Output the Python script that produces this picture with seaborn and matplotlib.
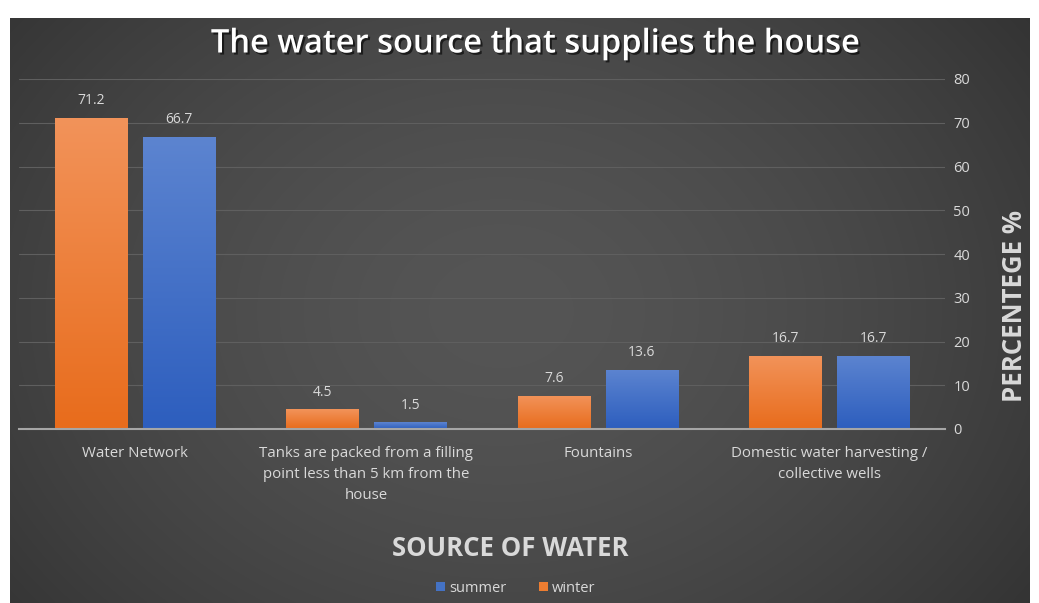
import numpy as np
import pandas as pd
import matplotlib
matplotlib.use("Agg")
import matplotlib.pyplot as plt
import matplotlib.patheffects as pe
from matplotlib.patches import Patch
import seaborn as sns

categories = [
    "Water Network",
    "Tanks are packed from a filling\npoint less than 5 km from the\nhouse",
    "Fountains",
    "Domestic water harvesting /\ncollective wells",
]
winter = [71.2, 4.5, 7.6, 16.7]
summer = [66.7, 1.5, 13.6, 16.7]
seasons = ["winter", "summer"]
y_ticks = [0, 10, 20, 30, 40, 50, 60, 70, 80]

df = pd.DataFrame({
    "source": categories * 2,
    "season": ["winter"] * len(categories) + ["summer"] * len(categories),
    "value": winter + summer,
})

ORANGE = "#ED7D31"
BLUE = "#4472C4"
TEXT = "#d9d9d9"

sns.set_theme(style="dark")
plt.rcParams["font.family"] = ["Open Sans", "DejaVu Sans"]

W, H = 1039, 603
fig = plt.figure(figsize=(W / 100, H / 100), dpi=100)
fig.patch.set_facecolor("white")

# dark panel with a soft radial gradient
bg = fig.add_axes([10 / W, 0, 1020 / W, 585 / H])
bg.set_axis_off()
yy, xx = np.mgrid[0:300, 0:520]
cx, cy = 250, 150
r = np.sqrt(((xx - cx) / 420.0) ** 2 + ((yy - cy) / 330.0) ** 2)
r = np.clip(r, 0, 1)
inner = np.array([0x55, 0x55, 0x55]) / 255
outer = np.array([0x24, 0x24, 0x24]) / 255
img = inner[None, None, :] * (1 - r[..., None] ** 1.6) + outer[None, None, :] * (r[..., None] ** 1.6)
bg.imshow(img, aspect="auto", extent=[0, 1, 0, 1], interpolation="bilinear")
bg.set_xlim(0, 1)
bg.set_ylim(0, 1)

ax = fig.add_axes([19 / W, (H - 429) / H, 926 / W, 350 / H])
ax.patch.set_alpha(0)

sns.barplot(data=df, x="source", y="value", hue="season", hue_order=seasons,
            palette={"winter": ORANGE, "summer": BLUE}, width=0.76, gap=0.18,
            legend=False, ax=ax, zorder=3, linewidth=0)

# vertical gradient inside each bar
grads = {
    "winter": (np.array([0xF2, 0x93, 0x5A]) / 255, np.array([0xE8, 0x6C, 0x1C]) / 255),
    "summer": (np.array([0x5C, 0x84, 0xD0]) / 255, np.array([0x2D, 0x5E, 0xBE]) / 255),
}
for i, bar in enumerate(ax.patches):
    season = seasons[i // len(categories)]
    top_c, bot_c = grads[season]
    x0, w, h = bar.get_x(), bar.get_width(), bar.get_height()
    t = np.linspace(0, 1, 100)[:, None]
    g = (top_c[None, :] * (1 - t) + bot_c[None, :] * t)[:, None, :]
    im = ax.imshow(g, aspect="auto", extent=[x0, x0 + w, 0, h], zorder=3.5,
                   interpolation="bilinear")
    im.set_clip_path(bar)
    bar.set_edgecolor("#2a2a2a")
    bar.set_linewidth(0.6)

for bar in ax.patches:
    h = bar.get_height()
    ax.annotate(f"{h:.1f}", (bar.get_x() + bar.get_width() / 2, h),
                xytext=(0, 7), textcoords="offset points", ha="center", va="bottom",
                color=TEXT, fontsize=10, zorder=5)

ax.set_xlim(-0.5, len(categories) - 0.5)
ax.set_ylim(0, 80)
ax.set_yticks(y_ticks)
ax.yaxis.tick_right()
ax.tick_params(axis="y", length=0, pad=6, colors=TEXT, labelsize=10.5)
ax.tick_params(axis="x", length=0, pad=12, colors=TEXT, labelsize=10.8)
for lbl in ax.get_xticklabels():
    lbl.set_linespacing(1.55)
ax.grid(axis="y", color="#5f5f5f", linewidth=0.8, zorder=0)
ax.grid(axis="x", visible=False)
for s in ["top", "left", "right"]:
    ax.spines[s].set_visible(False)
ax.spines["bottom"].set_color("#a6a6a6")
ax.spines["bottom"].set_linewidth(1.5)
ax.spines["bottom"].set_zorder(6)
ax.set_xlabel("")
ax.set_ylabel("")

fig.text(1015 / W, 1 - 306 / H, "PERCENTEGE %", rotation=90, ha="center", va="center",
         color=TEXT, fontsize=18.5, fontweight="bold")

fig.text(535 / W, 1 - 44 / H, "The water source that supplies the house", ha="center",
         va="center", color="white", fontsize=23.5, fontweight="semibold",
         path_effects=[pe.withSimplePatchShadow(offset=(1.5, -1.5), shadow_rgbFace="black", alpha=0.6)])

fig.text(510 / W, 1 - 548 / H, "SOURCE OF WATER", ha="center", va="center",
         color=TEXT, fontsize=18.5, fontweight="bold")

handles = [Patch(facecolor=BLUE, edgecolor="none", label="summer"),
           Patch(facecolor=ORANGE, edgecolor="none", label="winter")]
leg = fig.legend(handles=handles, loc="center", bbox_to_anchor=(516 / W, 1 - 588 / H),
                 ncol=2, frameon=False, fontsize=10.5, handlelength=0.6, handleheight=0.6,
                 handletextpad=0.3, columnspacing=2.2)
for t in leg.get_texts():
    t.set_color(TEXT)

fig.savefig("out.png", dpi=100, facecolor="white")
